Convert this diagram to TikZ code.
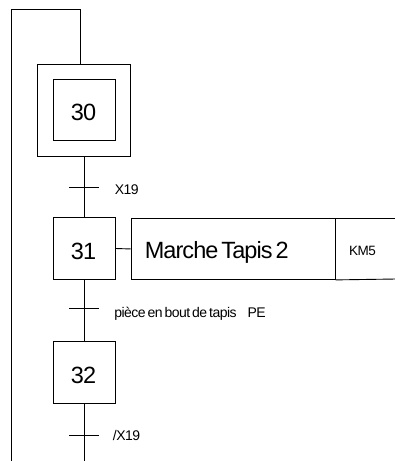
\documentclass[tikz,border=0pt]{standalone}
\usepackage{fontspec}
\setmainfont{Liberation Sans}[LetterSpace=-4]
\begin{document}
\begin{tikzpicture}[x=1pt,y=-1pt,line width=0.9pt,
  stepbox/.style={draw,minimum width=61.7pt,minimum height=61.5pt,inner sep=0pt},
  initbox/.style={draw,minimum width=93pt,minimum height=92pt,inner sep=0pt},
  lbl/.style={anchor=base west,inner sep=0pt,font=\fontsize{14}{16}\selectfont},
  num/.style={inner sep=0pt,font=\fontsize{23.5}{26}\selectfont}]
\useasboundingbox (0,0) rectangle (394,461);
% step 30
\node[initbox] (s30o) at (84.2,110) {};
\node[stepbox] (s30) at (84.2,110) {};
\node[num] (n30) at (83.5,112) {30};
% step 31
\node[stepbox] (s31) at (84.2,248.5) {};
\node[num] (n31) at (83.5,251) {31};
% step 32
\node[stepbox] (s32) at (84.2,372.5) {};
\node[num] (n32) at (83.5,375) {32};
% action
\node[draw,anchor=north west,minimum width=204pt,minimum height=61pt,inner sep=0pt] (act) at (130.7,218) {};
\node[anchor=base,inner sep=0pt,font=\fontsize{23.5}{26}\selectfont] (acttxt) at (216.7,258.3) {Marche\hspace{3pt}Tapis\hspace{3pt}2};
\node[anchor=base,inner sep=0pt,font=\fontsize{13.5}{15}\selectfont] (km) at (362.5,255) {KM5};
\coordinate (rt) at (396,218);
\coordinate (rb) at (396,279);
\draw (act.north east) -- (rt);
\draw (act.south east) -- (rb);
\draw (s31.east) -- (act.west);
% loop
\coordinate (topR) at (80.7,9.3);
\coordinate (topL) at (11,9.3);
\coordinate (botL) at (11,462);
\coordinate (bot) at (84.2,462);
\draw (s30o.north -| topR) -- (topR) -- (topL) -- (botL);
% links
\draw (s30o) -- (s31);
\draw (s31) -- (s32);
\draw (s32) -- (bot);
% transitions
\coordinate (t1) at (84.2,187);
\coordinate (t2) at (84.2,308.3);
\coordinate (t3) at (84.2,435);
\foreach \t in {t1,t2,t3} \draw ([xshift=-15pt]\t) -- ([xshift=15pt]\t);
\node[lbl] (l1) at (114.3,194) {X19};
\node[lbl] (l2) at (114,317.7) {pièce\hspace{2pt}en\hspace{2pt}bout\hspace{2pt}de\hspace{2pt}tapis\hspace{11pt}PE};
\node[lbl] (l3) at (112.5,440) {/X19};
\end{tikzpicture}
\end{document}
